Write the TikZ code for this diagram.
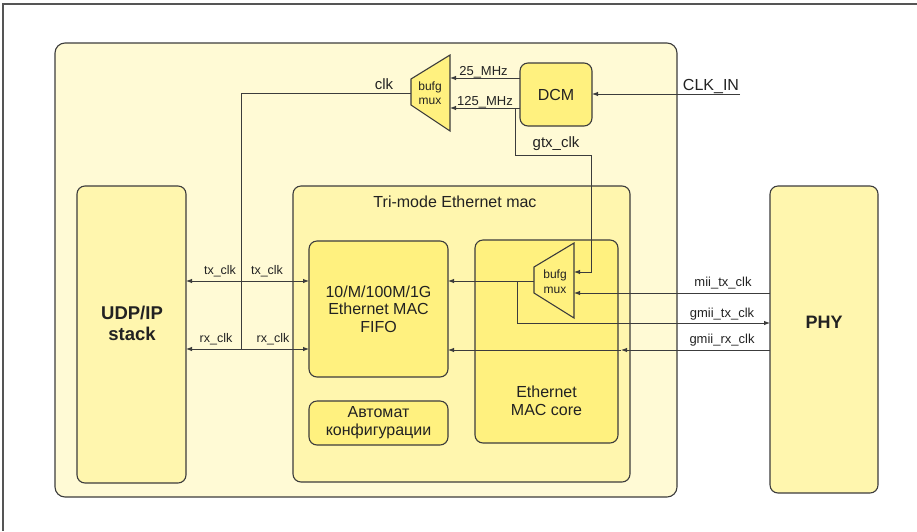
\documentclass[tikz,border=0pt]{standalone}
\usepackage{fontspec}
\setmainfont{Liberation Sans}
\usetikzlibrary{arrows.meta,calc}
\definecolor{panelfill}{HTML}{FFFAD5}
\definecolor{midfill}{HTML}{FFF6AE}
\definecolor{boxfill}{HTML}{FFF17F}
\definecolor{edgecol}{HTML}{3C3C3C}
\definecolor{txtcol}{HTML}{222222}
\definecolor{framecol}{HTML}{555555}
\tikzset{
  blk/.style={rectangle, draw=edgecol, line width=1.1pt, rounded corners=8pt, inner sep=0pt, outer sep=0pt},
  wire/.style={draw=edgecol, line width=0.9pt},
  arr/.style={wire, -{Latex[length=6pt,width=4.5pt]}},
  darr/.style={wire, {Latex[length=6pt,width=4.5pt]}-{Latex[length=6pt,width=4.5pt]}},
  muxshape/.style={draw=edgecol, fill=boxfill, line width=1.1pt, line join=miter},
  lbl/.style={inner sep=0pt, text=txtcol, anchor=base},
  boxtxt/.style={inner sep=0pt, text=txtcol, align=center},
}
\begin{document}
\begin{tikzpicture}[x=1pt,y=-1pt]
\useasboundingbox (0,0) rectangle (917,531);
% outer frame
\draw[framecol, line width=1.3pt] (917,4) -- (3,4) -- (3,531);

% blocks
\node[blk, fill=panelfill, minimum width=622pt, minimum height=454pt, rounded corners=10pt] (panel) at (366,270) {};
\node[blk, fill=midfill, minimum width=109pt, minimum height=297pt] (stack) at (131.5,334.5) {};
\node[blk, fill=midfill, minimum width=337pt, minimum height=296pt] (trimode) at (461.5,334) {};
\node[blk, fill=boxfill, minimum width=139pt, minimum height=136pt, boxtxt, font=\fontsize{16}{17.5}\selectfont] (fifo) at (378.5,309) {10/M/100M/1G\\Ethernet MAC\\FIFO};
\node[blk, fill=boxfill, minimum width=139pt, minimum height=44pt, boxtxt, font=\fontsize{16}{18}\selectfont] (automat) at (378.5,423) {Автомат\\конфигурации};
\node[blk, fill=boxfill, minimum width=143pt, minimum height=203pt] (core) at (546.5,341.5) {};
\node[blk, fill=boxfill, minimum width=72pt, minimum height=63pt, boxtxt, font=\fontsize{16}{16}\selectfont] (dcm) at (556,94.5) {DCM};
\node[blk, fill=midfill, minimum width=108pt, minimum height=307pt] (phy) at (824,339.5) {};

% block texts
\node[lbl, font=\fontsize{16}{16}\selectfont] (tmtitle) at (455,207) {Tri-mode Ethernet mac};
\node[boxtxt, font=\fontsize{18.5}{21}\selectfont\bfseries] (stacktxt) at (132,323) {UDP/IP\\stack};
\node[lbl, font=\fontsize{18}{18}\selectfont\bfseries] (phytxt) at (824,328) {PHY};
\node[boxtxt, font=\fontsize{16}{18}\selectfont] (coretxt) at (546.5,400.5) {Ethernet\\MAC core};

% port coordinates
\coordinate (m1in1) at (450,78);
\coordinate (m1in2) at (450,108);
\coordinate (m1out) at (411,93);
\coordinate (m2in1) at (574,272);
\coordinate (m2in2) at (574,293);
\coordinate (m2out) at (534,281);
\coordinate (clkin) at (740,94);
\coordinate (g0) at (515,108);
\coordinate (g1) at (591,155);
\coordinate (c0) at (241,349);
\coordinate (txy) at (0,281);
\coordinate (rxy) at (0,349);
\coordinate (b0) at (517,281);
\coordinate (b1) at (0,323);
\coordinate (rxm) at (621,350);

% wires
\draw[arr] (clkin) -- (dcm.east |- clkin);
\draw[arr] (dcm.west |- m1in1) -- (m1in1);
\draw[arr] (dcm.west |- m1in2) -- (m1in2);
\draw[arr] (g0) |- (g1) |- (m2in1);
\draw[wire] (m1out) -| (c0);
\draw[darr] (stack.east |- txy) -- (fifo.west |- txy);
\draw[darr] (stack.east |- rxy) -- (fifo.west |- rxy);
\draw[arr] (m2out) -- (fifo.east |- m2out);
\draw[arr] (b0) |- (phy.west |- b1);
\draw[arr] (phy.west |- m2in2) -- (m2in2);
\draw[arr] (phy.west |- rxm) -- (rxm);
\draw[arr] (rxm) -- (fifo.east |- rxm);

% muxes
\draw[muxshape] (411,79) -- (450,55) -- (450,131) -- (411,105) -- cycle;
\node[boxtxt, font=\fontsize{12}{14}\selectfont] (mux1) at (430,93) {bufg\\mux};
\draw[muxshape] (534,267) -- (574,243) -- (574,318) -- (534,293) -- cycle;
\node[boxtxt, font=\fontsize{12}{15}\selectfont] (mux2) at (555,282) {bufg\\mux};

% wire labels
\node[lbl, font=\fontsize{16}{16}\selectfont] (lclkin) at (711,90) {CLK\_IN};
\node[lbl, font=\fontsize{13}{13}\selectfont] (l25) at (483.5,75.5) {25\_MHz};
\node[lbl, font=\fontsize{13}{13}\selectfont] (l125) at (485,105) {125\_MHz};
\node[lbl, font=\fontsize{15}{15}\selectfont] (lgtx) at (556,147) {gtx\_clk};
\node[lbl, font=\fontsize{15}{15}\selectfont] (lclk) at (384,89) {clk};
\node[lbl, font=\fontsize{12.5}{12.5}\selectfont] (ltx1) at (220,274) {tx\_clk};
\node[lbl, font=\fontsize{12.5}{12.5}\selectfont] (ltx2) at (267,274) {tx\_clk};
\node[lbl, font=\fontsize{12.5}{12.5}\selectfont] (lrx1) at (216,342) {rx\_clk};
\node[lbl, font=\fontsize{12.5}{12.5}\selectfont] (lrx2) at (273,342) {rx\_clk};
\node[lbl, font=\fontsize{13}{13}\selectfont] (lmii) at (723,286) {mii\_tx\_clk};
\node[lbl, font=\fontsize{13}{13}\selectfont] (lgtxc) at (722,317) {gmii\_tx\_clk};
\node[lbl, font=\fontsize{13}{13}\selectfont] (lgrx) at (722,343.5) {gmii\_rx\_clk};
\end{tikzpicture}
\end{document}
